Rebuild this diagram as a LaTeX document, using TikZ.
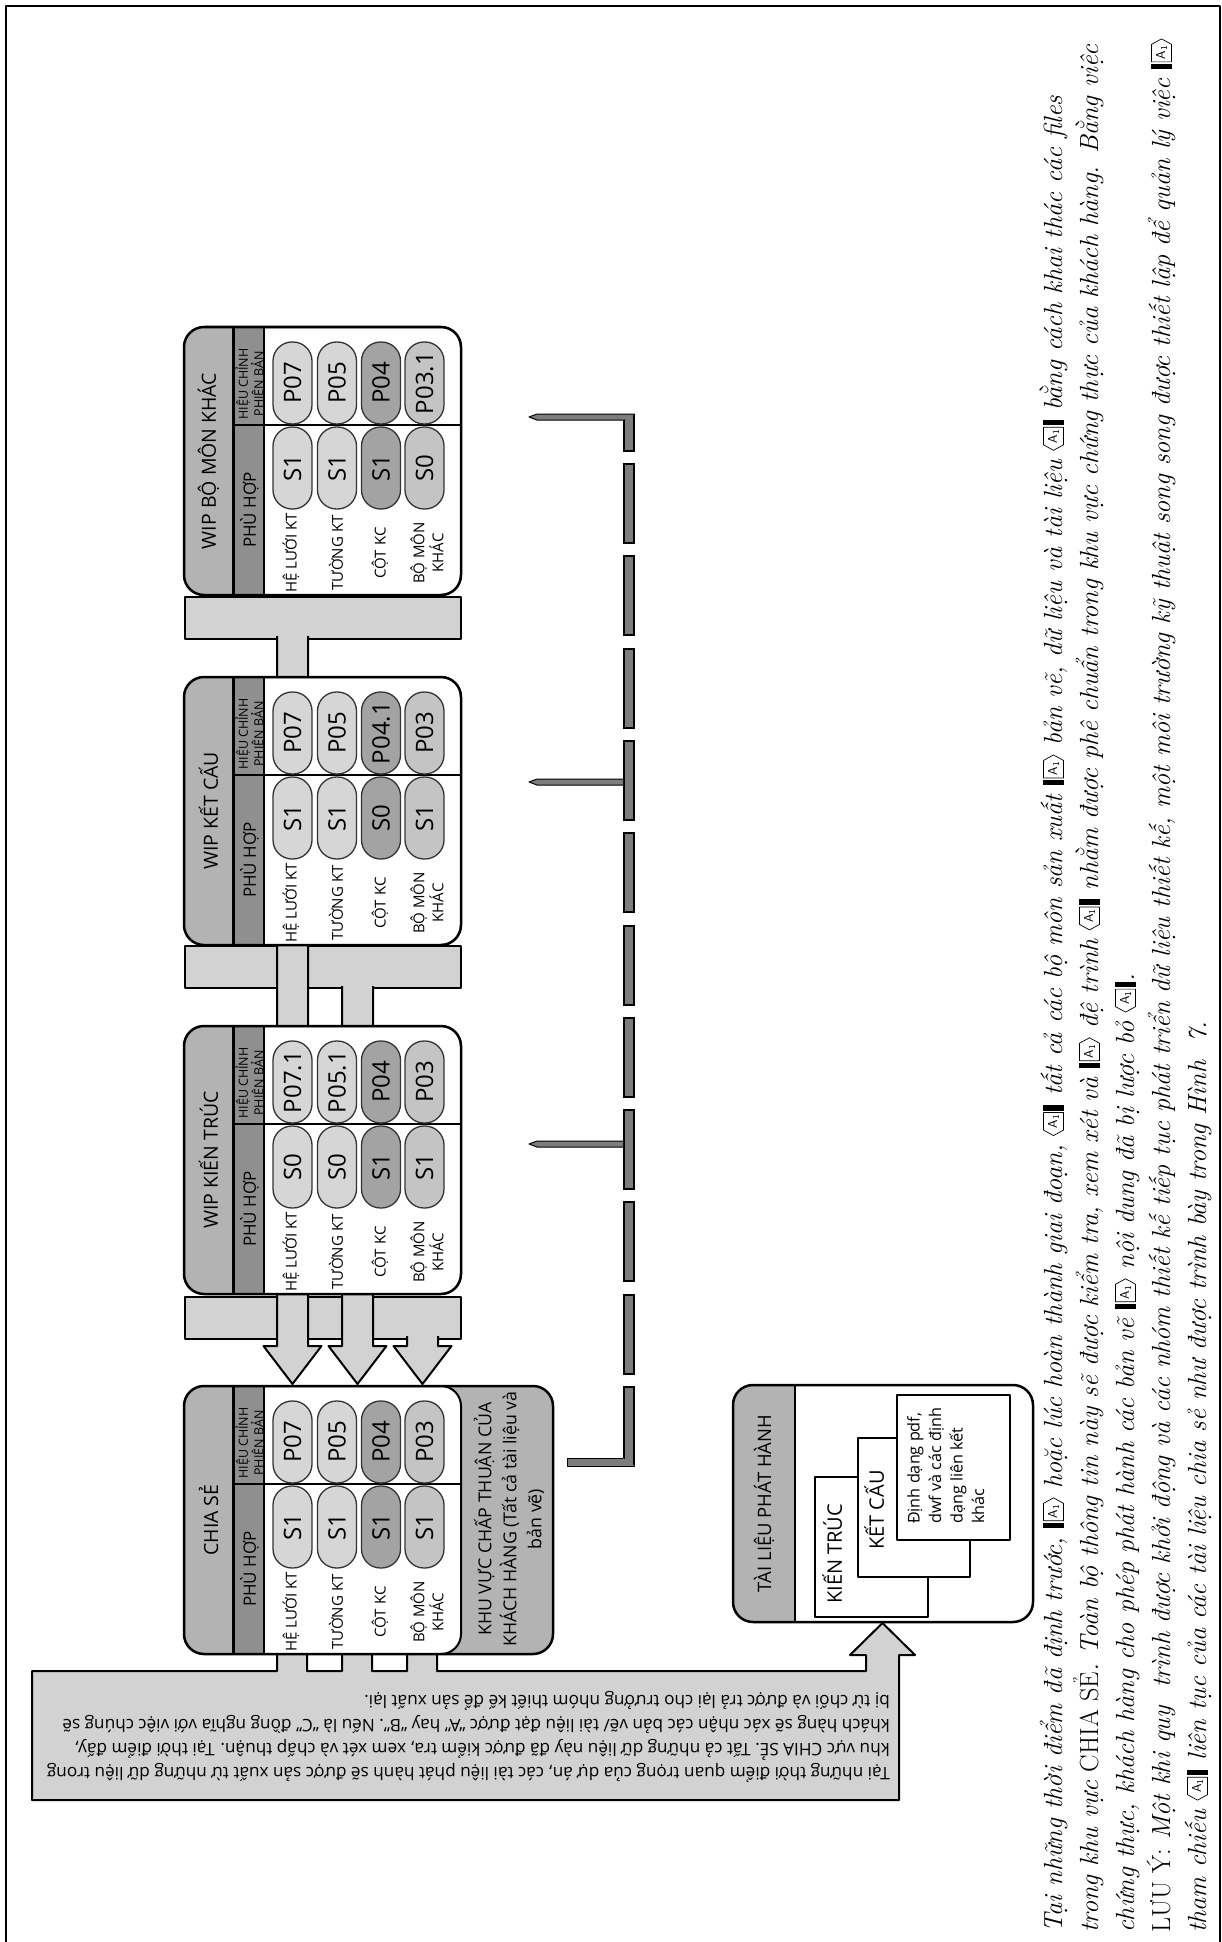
\documentclass[tikz,border=0pt]{standalone}
\usepackage{fontspec}
\newfontfamily\diagfont{Open Sans}
\usetikzlibrary{calc}

\definecolor{titlegray}{HTML}{B3B3B3}
\definecolor{colgray}{HTML}{8F8F8F}
\definecolor{pilllight}{HTML}{D6D6D6}
\definecolor{pilldark}{HTML}{A3A3A3}
\definecolor{pillmid}{HTML}{C4C4C4}
\definecolor{pipegray}{HTML}{D2D2D2}
\definecolor{dashgray}{HTML}{7D7D7D}

% amendment markers used in the note
\newsavebox\markopen
\newsavebox\markclose
\newcommand{\markpt}[2]{\pgfpoint{#1pt}{#2pt}}

\tikzset{
  frameline/.style={line width=2.5pt},
  titletext/.style={rotate=90, inner sep=0pt, font=\diagfont\fontsize{19.5}{24}\selectfont},
  coltext/.style={rotate=90, inner sep=0pt, font=\diagfont\fontsize{17}{20}\selectfont},
  revtext/.style={rotate=90, inner sep=0pt, align=center, font=\diagfont\fontsize{12.5}{12}\selectfont},
  rowlabel/.style={rotate=90, inner sep=0pt, align=center, font=\diagfont\fontsize{15}{19}\selectfont},
  pill/.style={draw=black!80, line width=1.3pt, rotate=90, rounded corners=19pt,
    minimum width=82pt, minimum height=39pt, inner sep=0pt,
    font=\diagfont\fontsize{24}{24}\selectfont},
  bar/.style={draw, line width=2pt, fill=pipegray},
  pipeline/.style={draw, line width=2pt, fill=pipegray},
  bartext/.style={rotate=180, inner sep=0pt, anchor=base west, font=\diagfont\fontsize{17.2}{24}\selectfont},
  docbox/.style={draw, line width=1.5pt, fill=white},
  doctext/.style={rotate=90, inner sep=0pt, anchor=north west, align=left,
    font=\diagfont\fontsize{20}{22}\selectfont},
  notetext/.style={rotate=90, inner sep=0pt, anchor=base west, font=\itshape\fontsize{26.2}{36}\selectfont},
  dashbranch/.style={draw, line width=1pt, fill=dashgray},
}

% one storage area: #1 name, #2 top edge, #3 right edge, #4 title
\newcommand{\stagebox}[4]{%
  \begin{scope}
    \clip[rounded corners=20pt] (184,#2) rectangle (#3,#2+268);
    \fill[titlegray] (184,#2) rectangle (#3,#2+268);
    \draw[fill=white, line width=2pt, rounded corners=20pt] (200,#2) rectangle (461,#2+268);
    \fill[titlegray] (184,#2) rectangle (233,#2+268);
    \fill[colgray] (233,#2) rectangle (264,#2+268);
    \draw[line width=3pt] (233,#2) -- (233,#2+268);
    \draw[line width=2pt] (264,#2) -- (264,#2+268);
    \draw[line width=1.5pt] (233,#2+98) -- (461,#2+98);
  \end{scope}
  \draw[frameline, rounded corners=20pt] (184,#2) rectangle (#3,#2+268);
  \node[titletext] (#1-title) at (208.5,#2+134) {#4};
  \node[revtext] (#1-rev) at (249.5,#2+57) {HIỆU CHỈNH\\PHIÊN BẢN};
  \node[coltext] (#1-fit) at (249.5,#2+183) {PHÙ HỢP};
  \node[rowlabel] (#1-r1) at (291,#2+226) {HỆ LƯỚI KT};
  \node[rowlabel] (#1-r2) at (336,#2+226) {TƯỜNG KT};
  \node[rowlabel] (#1-r3) at (380,#2+226) {CỘT KC};
  \node[rowlabel] (#1-r4) at (427,#2+226) {BỘ MÔN\\KHÁC};
}

% one column of pills: #1 name, #2 centre y, #3-#6 values
\newcommand{\pillcol}[6]{%
  \node[pill, fill=pilllight] (#1-1) at (292.5,#2) {#3};
  \node[pill, fill=pilllight] (#1-2) at (337,#2) {#4};
  \node[pill, fill=pilldark]  (#1-3) at (381,#2) {#5};
  \node[pill, fill=pillmid]   (#1-4) at (424.5,#2) {#6};
}

% block arrow down from a bar: #1 centre x, #2 start y, #3 tip y
\newcommand{\pipearrow}[3]{%
  \path[pipeline] (#1-15.5,#2) -- (#1-15.5,#3-38) -- (#1-29,#3-38) -- (#1,#3)
    -- (#1+29,#3-38) -- (#1+15.5,#3-38) -- (#1+15.5,#2);}

\begin{document}
\sbox\markopen{\begin{pgfpicture}\pgfsetbaseline{0pt}\pgfsetlinewidth{0.7pt}%
  \pgfpathrectangle{\markpt{0}{-2}}{\markpt{5.5}{21.5}}\pgfusepath{fill}%
  \pgfpathmoveto{\markpt{7.5}{-1.5}}\pgfpathlineto{\markpt{25}{-1.5}}\pgfpathlineto{\markpt{30.5}{8.5}}%
  \pgfpathlineto{\markpt{25}{18.5}}\pgfpathlineto{\markpt{7.5}{18.5}}\pgfpathclose\pgfusepath{stroke}%
  \pgftext[at=\markpt{17}{8.5}]{\sffamily\fontsize{13}{13}\selectfont A\textsubscript{1}}%
\end{pgfpicture}}%
\sbox\markclose{\begin{pgfpicture}\pgfsetbaseline{0pt}\pgfsetlinewidth{0.7pt}%
  \pgfpathmoveto{\markpt{5.5}{-1.5}}\pgfpathlineto{\markpt{23}{-1.5}}\pgfpathlineto{\markpt{23}{18.5}}%
  \pgfpathlineto{\markpt{5.5}{18.5}}\pgfpathlineto{\markpt{0}{8.5}}\pgfpathclose\pgfusepath{stroke}%
  \pgfpathrectangle{\markpt{25}{-2}}{\markpt{5.5}{21.5}}\pgfusepath{fill}%
  \pgftext[at=\markpt{14}{8.5}]{\sffamily\fontsize{13}{13}\selectfont A\textsubscript{1}}%
\end{pgfpicture}}%
\begin{tikzpicture}[x=1pt,y=-1pt,line join=round]
\useasboundingbox (0,0) rectangle (1222,1942);
% page frame
\draw[frameline] (6,1942) -- (6,6) -- (1220,6) -- (1220,1942);

% share bars below each WIP area
\node[bar, minimum width=276pt, minimum height=42pt] (bmk-bar) at (323,617.5) {};
\node[bar, minimum width=276pt, minimum height=42pt] (kc-bar) at (323,967) {};
\node[bar, minimum width=276pt, minimum height=42pt] (kt-bar) at (323,1318) {};

% pipes into CHIA SE
\pipearrow{292.5}{636}{1384}
\pipearrow{357.5}{986}{1384}
\pipearrow{422.5}{1336}{1384}

% issue bar and arrow to the published documents
\path[bar] (32,1671) -- (277,1671) -- (277,1653) -- (307,1653) -- (307,1671)
  -- (342,1671) -- (342,1653) -- (372,1653) -- (372,1671)
  -- (407,1671) -- (407,1653) -- (437,1653) -- (437,1671)
  -- (866,1671) -- (866,1655) -- (850,1655) -- (882.5,1623) -- (915,1655)
  -- (899,1655) -- (899,1800) -- (32,1800) -- cycle;
\node[bartext] (issue-1) at (890,1767) {Tại những thời điểm quan trọng của dự án, các tài liệu phát hành sẽ được sản xuất từ những dữ liệu trong};
\node[bartext] (issue-2) at (890,1743) {khu vực CHIA SẺ. Tất cả những dữ liệu này đã được kiểm tra, xem xét và chấp thuận. Tại thời điểm đấy,};
\node[bartext] (issue-3) at (890,1719) {khách hàng sẽ xác nhận các bản vẽ/ tài liệu đạt được “A” hay “B”. Nếu là “C” đồng nghĩa với việc chúng sẽ};
\node[bartext] (issue-4) at (890,1695) {bị từ chối và được trả lại cho trưởng nhóm thiết kế để sản xuất lại.};

% WIP areas
\stagebox{bmk}{327}{461}{WIP BỘ MÔN KHÁC}
\pillcol{bmk-p}{383}{P07}{P05}{P04}{P03.1}
\pillcol{bmk-s}{468}{S1}{S1}{S1}{S0}

\stagebox{kc}{677}{461}{WIP KẾT CẤU}
\pillcol{kc-p}{733}{P07}{P05}{P04.1}{P03}
\pillcol{kc-s}{818}{S1}{S1}{S0}{S1}

\stagebox{kt}{1026}{461}{WIP KIẾN TRÚC}
\pillcol{kt-p}{1082}{P07.1}{P05.1}{P04}{P03}
\pillcol{kt-s}{1167}{S0}{S0}{S1}{S1}

% shared area with client approval strip
\stagebox{cs}{1386}{553}{CHIA SẺ}
\pillcol{cs-p}{1442}{P07}{P05}{P04}{P03}
\pillcol{cs-s}{1527}{S1}{S1}{S1}{S1}
\node[rowlabel, font=\diagfont\fontsize{17.8}{25}\selectfont] (cs-client) at (509,1519)
  {KHU VỰC CHẤP THUẬN CỦA\\KHÁCH HÀNG (Tất cả tài liệu và\\bản vẽ)};

% published documents
\begin{scope}
  \clip[rounded corners=20pt] (733,1385) rectangle (1033,1622);
  \fill[white] (733,1385) rectangle (1033,1622);
  \fill[titlegray] (733,1385) rectangle (795,1622);
  \draw[line width=2pt] (795,1385) -- (795,1622);
\end{scope}
\draw[frameline, rounded corners=20pt] (733,1385) rectangle (1033,1622);
\node[titletext, font=\diagfont\fontsize{18.5}{22}\selectfont] (pub-title) at (764,1503.5) {TÀI LIỆU PHÁT HÀNH};
\draw[docbox] (815,1477) rectangle (928,1617);
\node[doctext] (doc-kt) at (822,1604) {KIẾN TRÚC};
\draw[docbox] (858,1438) rectangle (970,1577);
\node[doctext] (doc-kc) at (864,1550) {KẾT CẤU};
\draw[docbox] (897,1395) rectangle (1010,1540);
\node[doctext, font=\diagfont\fontsize{16.2}{21.5}\selectfont] (doc-other) at (907,1524)
  {Định dạng pdf,\\dwf và các định\\dạng liên kết\\khác};

% feedback from the client back to each WIP area
\coordinate (fb-top) at (629,414);
\coordinate (fb-end) at (629,1466);
\draw[line width=12pt, dash pattern=on 81pt off 11.3pt, dash phase=43.3pt] (fb-top) -- (fb-end);
\draw[dashgray, line width=8pt, dash pattern=on 77pt off 15.3pt, dash phase=41.3pt] (fb-top) -- (fb-end);
\path[dashbranch] (635,414) -- (537,414) -- (529,417) -- (537,420) -- (623,420);
\path[dashbranch] (623,779) -- (537,779) -- (529,782) -- (537,785) -- (623,785);
\path[dashbranch] (623,1141) -- (537,1141) -- (529,1144) -- (537,1147) -- (623,1147);
\path[dashbranch] (623,1458) -- (567,1458) -- (567,1466) -- (635,1466);

% note below the figure
\node[notetext] (note-1) at (1062,1933) {Tại những thời điểm đã định trước, \usebox\markopen{} hoặc lúc hoàn thành giai đoạn, \usebox\markclose{} tất cả các bộ môn sản xuất \usebox\markopen{} bản vẽ, dữ liệu và tài liệu \usebox\markclose{} bằng cách khai thác các files};
\node[notetext] (note-2) at (1098,1933) {trong khu vực {\upshape CHIA SẺ}. Toàn bộ thông tin này sẽ được kiểm tra, xem xét và \usebox\markopen{} đệ trình \usebox\markclose{} nhằm được phê chuẩn trong khu vực chứng thực của khách hàng. Bằng việc};
\node[notetext] (note-3) at (1134,1933) {chứng thực, khách hàng cho phép phát hành các bản vẽ \usebox\markopen{} nội dung đã bị lược bỏ \usebox\markclose.};
\node[notetext] (note-4) at (1170,1933) {{\upshape LƯU Ý:} Một khi quy\ \ trình được khởi động và các nhóm thiết kế tiếp tục phát triển dữ liệu thiết kế, một môi trường kỹ thuật song song được thiết lập để quản lý việc \usebox\markopen};
\node[notetext] (note-5) at (1206,1933) {tham chiếu \usebox\markclose{} liên tục của các tài liệu chia sẻ như được trình bày trong Hình\ \ 7.};
\end{tikzpicture}
\end{document}
